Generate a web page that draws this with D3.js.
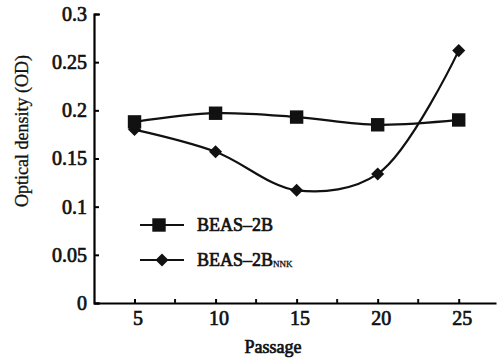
<!DOCTYPE html>
<html>
<head>
<meta charset="utf-8">
<script src="https://cdn.jsdelivr.net/npm/d3@7"></script>
<style>
  body { margin: 0; background: #fff; }
</style>
</head>
<body>
<div id="chart"></div>
<script>
// values
const passages = [5, 10, 15, 20, 25];
const beas2b = [0.188, 0.197, 0.193, 0.185, 0.190];
const beas2bNnk = [0.180, 0.157, 0.117, 0.134, 0.262];
const yTicks = [0, 0.05, 0.1, 0.15, 0.2, 0.25, 0.3];
const xTicks = [5, 10, 15, 20, 25];
const xMinorTicks = [7.5, 12.5, 17.5, 22.5];

// bold face of the serif is not available, so thicken the regular face with a stroke
const FONT = 'Liberation Serif';
const heavy = sel => sel.attr('font-weight', 'normal').attr('stroke', '#111').attr('stroke-width', 0.7);

const W = 497, H = 362;
const margin = { top: 14, right: 1, bottom: 59, left: 94 };
const width = W - margin.left - margin.right;
const height = H - margin.top - margin.bottom;

const svg = d3.select('#chart')
  .append('svg')
  .attr('width', W)
  .attr('height', H)
  .append('g')
  .attr('transform', `translate(${margin.left},${margin.top})`);

const x = d3.scaleLinear().domain([2.5, 27.3]).range([0, width]);
const y = d3.scaleLinear().domain([0, 0.3]).range([height, 0]);

// axes (ticks point inward)
const yAxis = svg.append('g')
  .call(d3.axisLeft(y).tickValues(yTicks).tickFormat(d => d === 0 ? '0' : String(d)).tickSizeInner(-5).tickSizeOuter(-6).tickPadding(7));
yAxis.attr('font-family', FONT);
yAxis.select('.domain').attr('stroke-width', 2.2);
yAxis.selectAll('.tick line').attr('stroke-width', 2);
yAxis.selectAll('text').attr('font-size', '20px').attr('fill', '#111').call(heavy);

const xAxis = svg.append('g')
  .attr('transform', `translate(0,${height})`)
  .call(d3.axisBottom(x).tickValues(xTicks).tickFormat(d3.format('d')).tickSizeInner(-4).tickSizeOuter(0).tickPadding(8));
xAxis.attr('font-family', FONT);
xAxis.select('.domain').attr('stroke-width', 2.2);
xAxis.selectAll('.tick line').attr('stroke-width', 2);
xAxis.selectAll('text').attr('font-size', '20px').attr('fill', '#111').attr('dx', 3).call(heavy);

svg.append('g')
  .selectAll('line')
  .data(xMinorTicks)
  .join('line')
  .attr('x1', d => x(d)).attr('x2', d => x(d))
  .attr('y1', height).attr('y2', height - 4)
  .attr('stroke', '#111').attr('stroke-width', 2);

// axis titles
svg.append('text')
  .attr('x', 273 - margin.left)
  .attr('y', height + 50)
  .attr('text-anchor', 'middle')
  .attr('font-family', FONT)
  .attr('font-size', '18px')
  .attr('fill', '#111')
  .call(heavy)
  .text('Passage');

svg.append('text')
  .attr('transform', 'rotate(-90)')
  .attr('x', -(131 - margin.top))
  .attr('y', -66)
  .attr('text-anchor', 'middle')
  .attr('font-family', FONT)
  .attr('font-size', '18px')
  .attr('fill', '#111')
  .attr('stroke', '#111')
  .attr('stroke-width', 0.3)
  .text('Optical density (OD)');

// series
const line = d3.line()
  .x((d, i) => x(passages[i]))
  .y(d => y(d))
  .curve(d3.curveCatmullRom.alpha(0.5));

svg.append('path')
  .datum(beas2b)
  .attr('d', line)
  .attr('fill', 'none')
  .attr('stroke', '#111')
  .attr('stroke-width', 2.2);

svg.append('path')
  .datum(beas2bNnk)
  .attr('d', line)
  .attr('fill', 'none')
  .attr('stroke', '#111')
  .attr('stroke-width', 2.2);

const square = d3.symbol().type(d3.symbolSquare).size(180);
const diamond = d3.symbol().type(d3.symbolSquare).size(85);

svg.selectAll('.nnk-pt')
  .data(beas2bNnk)
  .join('path')
  .attr('class', 'nnk-pt')
  .attr('transform', (d, i) => `translate(${x(passages[i])},${y(d)}) rotate(45)`)
  .attr('d', diamond)
  .attr('fill', '#111');

svg.selectAll('.beas-pt')
  .data(beas2b)
  .join('path')
  .attr('class', 'beas-pt')
  .attr('transform', (d, i) => `translate(${x(passages[i])},${y(d)})`)
  .attr('d', square)
  .attr('fill', '#111');

// legend
const legend = svg.append('g')
  .attr('transform', `translate(${140 - margin.left},${225 - margin.top})`)
  .attr('font-family', FONT);

legend.append('line').attr('x1', 0).attr('x2', 44).attr('y1', 0).attr('y2', 0)
  .attr('stroke', '#111').attr('stroke-width', 2.2);
legend.append('path').attr('transform', 'translate(19,0)').attr('d', square).attr('fill', '#111');
legend.append('text').attr('x', 57).attr('y', 6).attr('fill', '#111')
  .attr('font-size', '18px').call(heavy).text('BEAS–2B');

legend.append('line').attr('x1', 0).attr('x2', 44).attr('y1', 35).attr('y2', 35)
  .attr('stroke', '#111').attr('stroke-width', 2.2);
legend.append('path').attr('transform', 'translate(22,35) rotate(45)').attr('d', diamond).attr('fill', '#111');
const t2 = legend.append('text').attr('x', 57).attr('y', 41).attr('fill', '#111')
  .attr('font-size', '18px').call(heavy);
t2.append('tspan').text('BEAS–2B');
t2.append('tspan').attr('font-size', '9px').attr('dy', 1).attr('stroke-width', 0.3).text('NNK');
</script>
</body>
</html>
